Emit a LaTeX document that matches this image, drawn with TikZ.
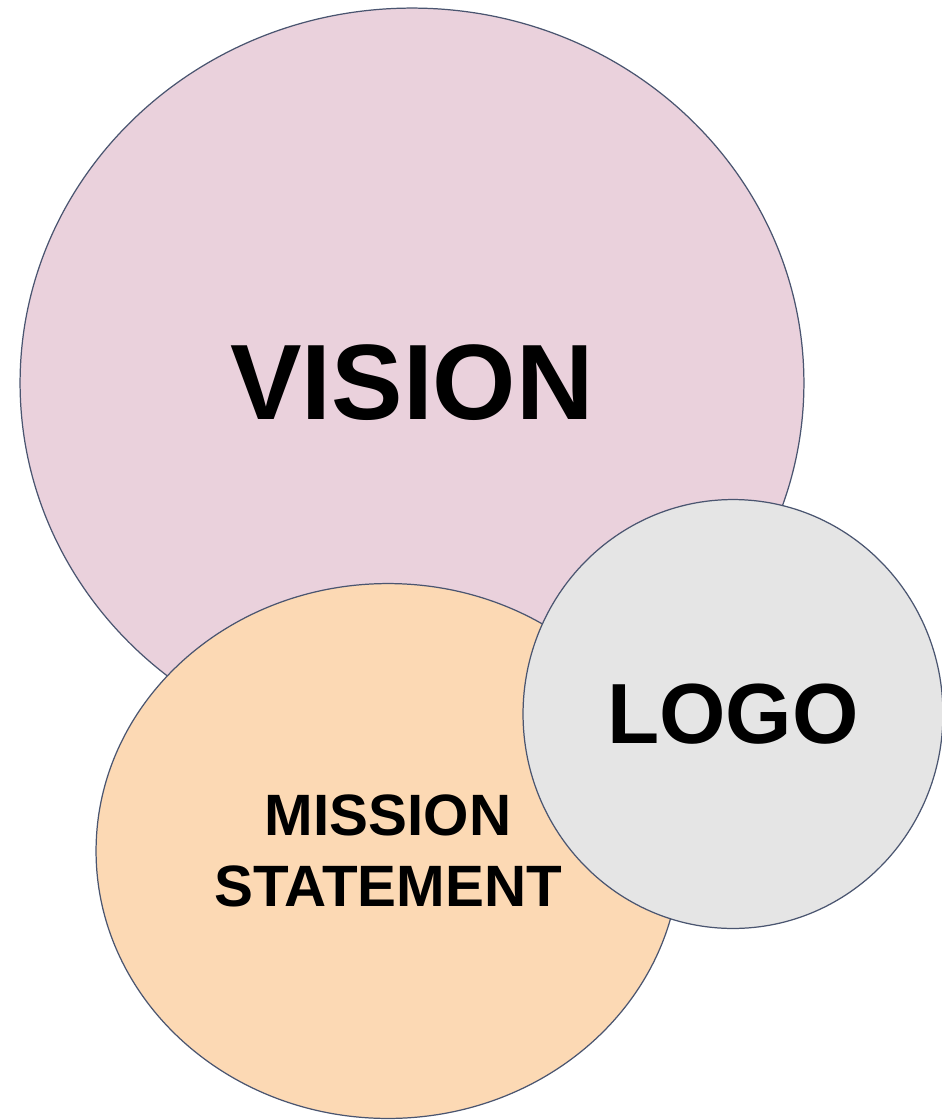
\documentclass[tikz,border=0pt]{standalone}
\usepackage{fontspec}
\setmainfont{Liberation Sans}
\usepackage{tikz}
\usetikzlibrary{
	shapes.geometric,
	positioning
}

\definecolor{visionpink}{HTML}{EAD1DC}
\definecolor{missionpeach}{HTML}{FCD9B4}
\definecolor{logogray}{HTML}{E5E5E5}
\definecolor{rimslate}{HTML}{4A5570}

\tikzset{
	blob/.style={ellipse,draw=rimslate,line width=0.7pt,inner sep=0pt},
}

\begin{document}
\begin{tikzpicture}[x=0.02cm,y=-0.02cm]
		\useasboundingbox (0,0) rectangle (941,1120);
		\draw
			node[blob,fill=visionpink,minimum width=15.68cm,minimum height=15cm,
				font=\fontsize{61}{68}\bfseries]         (vision)  at (412,383) {VISION}
			node[blob,fill=missionpeach,minimum width=11.68cm,minimum height=10.7cm,
				align=center,font=\fontsize{33.2}{40.5}\bfseries] (mission) at (388,851) {MISSION\\STATEMENT}
			node[blob,fill=logogray,minimum width=8.4cm,minimum height=8.58cm,
				font=\fontsize{48.6}{56}\bfseries]       (logo)    at (733,714) {LOGO}
		;
	\end{tikzpicture}
\end{document}
